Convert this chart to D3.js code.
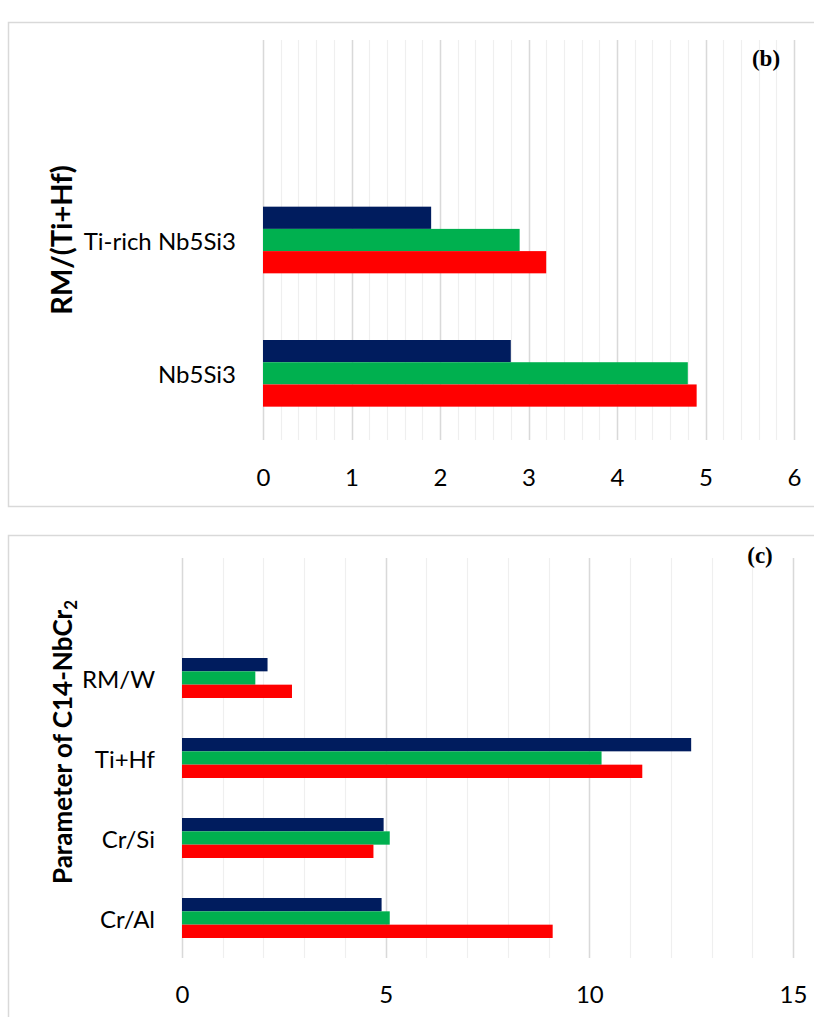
<!DOCTYPE html>
<html>
<head>
<meta charset="utf-8">
<script src="https://cdn.jsdelivr.net/npm/d3@7"></script>
<style>
  html, body { margin: 0; padding: 0; background: #fff; }
  svg { display: block; }
  text { fill: #000; }
</style>
</head>
<body>
<svg id="chart" width="814" height="1017"></svg>
<script>
// Series (drawn top to bottom inside each group)
const seriesNames = ["navy", "green", "red"];
const seriesColors = ["#001c5e", "#00b04f", "#ff0000"];

// Panel (b): RM/(Ti+Hf) of Nb5Si3, categories top to bottom (top slot is blank)
const catsB = ["", "Ti-rich Nb5Si3", "Nb5Si3"];
const navyB = [null, 1.9, 2.8];
const greenB = [null, 2.9, 4.8];
const redB = [null, 3.2, 4.9];
const ticksB = [0, 1, 2, 3, 4, 5, 6];

// Panel (c): parameters of C14-NbCr2, categories top to bottom (top slot is blank)
const catsC = ["", "RM/W", "Ti+Hf", "Cr/Si", "Cr/Al"];
const navyC = [null, 2.1, 12.5, 4.95, 4.9];
const greenC = [null, 1.8, 10.3, 5.1, 5.1];
const redC = [null, 2.7, 11.3, 4.7, 9.1];
const ticksC = [0, 5, 10, 15];

const SANS = "Lato, 'Open Sans', sans-serif";
const SERIF = "'Liberation Serif', 'DejaVu Serif', serif";

const svg = d3.select("#chart");

function panel(cfg) {
  const g = svg.append("g");
  // panel frame
  g.append("rect")
    .attr("x", cfg.frame[0] + 0.5).attr("y", cfg.frame[1] + 0.5)
    .attr("width", cfg.frame[2]).attr("height", cfg.frame[3])
    .attr("fill", "#fff").attr("stroke", "#d9d9d9").attr("stroke-width", 1.5);

  const x = d3.scaleLinear().domain(cfg.xDomain).range([cfg.left, cfg.right]);
  const y0 = d3.scaleBand().domain(cfg.cats).range([cfg.top, cfg.bottom]);
  const y1 = d3.scaleBand().domain(seriesNames).range([0, y0.bandwidth()])
    .paddingInner(0).paddingOuter(1.5);

  // minor gridlines
  const minor = d3.range(cfg.xDomain[0], cfg.xDomain[1] + 1e-9, cfg.minorStep);
  g.append("g").selectAll("line").data(minor).join("line")
    .attr("x1", d => Math.round(x(d)) + 0.5).attr("x2", d => Math.round(x(d)) + 0.5)
    .attr("y1", cfg.top).attr("y2", cfg.bottom)
    .attr("stroke", "#efefef").attr("stroke-width", 1.2);

  // major gridlines
  g.append("g").selectAll("line").data(cfg.ticks).join("line")
    .attr("x1", d => Math.round(x(d)) + 0.5).attr("x2", d => Math.round(x(d)) + 0.5)
    .attr("y1", cfg.top).attr("y2", cfg.bottom)
    .attr("stroke", "#d9d9d9").attr("stroke-width", 1.5);

  // bars
  const rows = [];
  cfg.cats.forEach((c, i) => {
    cfg.values.forEach((vals, s) => {
      if (vals[i] != null) rows.push({ cat: c, s: seriesNames[s], v: vals[i], color: seriesColors[s] });
    });
  });
  g.append("g").selectAll("rect").data(rows).join("rect")
    .attr("x", x(0))
    .attr("y", d => y0(d.cat) + y1(d.s))
    .attr("width", d => x(d.v) - x(0))
    .attr("height", y1.bandwidth())
    .attr("fill", d => d.color);

  // category labels
  g.append("g").selectAll("text").data(cfg.cats.filter(c => c !== "")).join("text")
    .attr("x", cfg.left - 27)
    .attr("y", d => y0(d) + y0.bandwidth() / 2)
    .attr("text-anchor", "end").attr("dominant-baseline", "central")
    .style("font-family", SANS)
    .attr("font-size", cfg.labelSize)
    .text(d => d);

  // value axis labels
  const xAxis = d3.axisBottom(x).tickValues(cfg.ticks).tickSize(0).tickPadding(0)
    .tickFormat(d3.format("d"));
  const ax = g.append("g").attr("transform", `translate(0,${cfg.tickY})`).call(xAxis);
  ax.select(".domain").remove();
  ax.selectAll("text").attr("font-size", 24).style("font-family", SANS)
    .attr("fill", "#000").attr("dy", "0.35em");

  // axis title
  const t = g.append("text")
    .attr("transform", `translate(${cfg.titleX},${cfg.titleY}) rotate(-90)`)
    .attr("text-anchor", "middle")
    .style("font-family", SANS)
    .attr("font-size", cfg.titleSize).attr("font-weight", "bold");
  t.append("tspan").text(cfg.title);
  if (cfg.titleSub) {
    t.append("tspan").attr("font-size", cfg.titleSize * 0.65).attr("dy", "0.3em").text(cfg.titleSub);
  }

  // panel letter
  g.append("text")
    .attr("x", cfg.letterX).attr("y", cfg.letterY)
    .attr("text-anchor", "middle").attr("dominant-baseline", "central")
    .style("font-family", SERIF)
    .attr("font-weight", "bold").attr("font-size", 23)
    .text(cfg.letter);
}

panel({
  frame: [8, 22, 820, 484],
  xDomain: [0, 6], left: 263, right: 794, top: 40, bottom: 440,
  cats: catsB, values: [navyB, greenB, redB], ticks: ticksB, minorStep: 0.2,
  tickY: 478, labelSize: 24,
  title: "RM/(Ti+Hf)", titleSub: null, titleX: 72, titleY: 240, titleSize: 29,
  letter: "(b)", letterX: 766, letterY: 58
});

panel({
  frame: [8, 535, 820, 500],
  xDomain: [0, 15], left: 182, right: 793, top: 558, bottom: 958,
  cats: catsC, values: [navyC, greenC, redC], ticks: ticksC, minorStep: 1,
  tickY: 995, labelSize: 24,
  title: "Parameter of C14-NbCr", titleSub: "2", titleX: 72, titleY: 742, titleSize: 26,
  letter: "(c)", letterX: 760, letterY: 555
});
</script>
</body>
</html>
